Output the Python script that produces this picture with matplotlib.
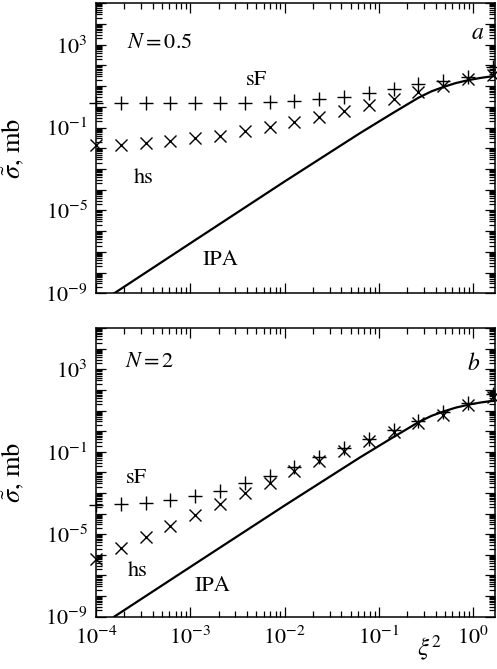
import matplotlib
matplotlib.use("Agg")
import matplotlib.pyplot as plt
import matplotlib.ticker as ticker
import numpy as np

plt.rcParams["font.family"] = "STIXGeneral"
plt.rcParams["mathtext.fontset"] = "stix"

# xi^2 grid shared by the sF and hs points
xi2 = [1.0e-4, 1.83e-4, 3.36e-4, 6.14e-4, 1.13e-3, 2.07e-3, 3.79e-3, 6.95e-3,
       1.27e-2, 2.33e-2, 4.27e-2, 7.8e-2, 0.143, 0.262, 0.48, 0.88, 1.61]

# N = 0.5
sf_a = [1.6, 1.6, 1.6, 1.6, 1.6, 1.6, 1.6, 1.75, 2.0, 2.35, 3.1, 4.8,
        7.0, 12.3, 18.3, 28.6, 87.0]
hs_a = [0.014, 0.0145, 0.0175, 0.0234, 0.031, 0.040, 0.069, 0.112, 0.196,
        0.34, 0.65, 1.23, 2.3, 5.4, 10.0, 21.0, 35.0]

# N = 2
sf_b = [2.6e-4, 2.9e-4, 3.4e-4, 4.6e-4, 7.2e-4, 1.3e-3, 3.2e-3, 6.8e-3,
        0.019, 0.055, 0.15, 0.43, 1.2, 3.3, 8.9, 24.0, 62.0]
hs_b = [6.3e-7, 2.2e-6, 7.1e-6, 2.5e-5, 8.7e-5, 2.95e-4, 9.8e-4, 3.2e-3,
        0.012, 0.037, 0.114, 0.33, 0.9, 2.45, 6.5, 18.0, 48.0]

# independent particle approximation curve
ipa_x = [1.56e-4, 1.0e-3, 1.0e-2, 3.16e-2, 6.3e-2, 0.142, 0.262, 0.36,
         0.482, 0.65, 0.887, 1.2, 1.61, 1.7]
ipa_y = [1.0e-9, 2.6e-7, 2.5e-4, 7.2e-3, 5.4e-2, 0.52, 2.75, 5.6,
         9.1, 14.0, 19.5, 25.0, 30.2, 31.0]

panels = [
    dict(sf=sf_a, hs=hs_a, label="$N = 0.5$", letter="$a$",
         N_pos=(0.078, 0.863), let_pos=(0.957, 0.898),
         sf_pos=(0.401, 0.736), hs_pos=(0.120, 0.398), ipa_pos=(0.311, 0.115)),
    dict(sf=sf_b, hs=hs_b, label="$N = 2$", letter="$b$",
         N_pos=(0.073, 0.883), let_pos=(0.947, 0.876),
         sf_pos=(0.100, 0.481), hs_pos=(0.105, 0.158), ipa_pos=(0.291, 0.106)),
]

fig = plt.figure(figsize=(4.97, 6.69), dpi=100)
rects = [[0.1932, 0.5616, 0.8028, 0.4335], [0.1932, 0.0782, 0.8028, 0.4311]]

for i, (p, r) in enumerate(zip(panels, rects)):
    ax = fig.add_axes(r)
    ax.set_xscale("log")
    ax.set_yscale("log")

    ax.plot(ipa_x, ipa_y, color="black", lw=1.6)
    ax.plot(xi2, p["sf"], ls="none", marker="+", ms=10, mew=1.0,
            color="black", clip_on=False)
    ax.plot(xi2, p["hs"], ls="none", marker="x", ms=8.5, mew=1.0,
            color="black", clip_on=False)

    ax.set_xlim(1e-4, 1.7)
    ax.set_ylim(1e-9, 1e5)

    # every decade gets a major tick, only every fourth one is labelled
    ax.yaxis.set_major_locator(ticker.LogLocator(base=10, numticks=30))
    ax.yaxis.set_minor_locator(ticker.LogLocator(base=10, subs=np.arange(2, 10), numticks=30))
    ax.yaxis.set_major_formatter(ticker.FuncFormatter(
        lambda v, pos: r"$10^{%d}$" % round(np.log10(v)) if round(np.log10(v)) in (-9, -5, -1, 3) else ""))
    ax.yaxis.set_minor_formatter(ticker.NullFormatter())
    ax.xaxis.set_major_locator(ticker.LogLocator(base=10, numticks=10))
    ax.xaxis.set_minor_locator(ticker.LogLocator(base=10, subs=np.arange(2, 10), numticks=10))
    ax.xaxis.set_minor_formatter(ticker.NullFormatter())

    ax.tick_params(which="both", direction="in", top=True, right=True,
                   labelsize=16, width=0.9)
    ax.tick_params(which="major", length=7)
    ax.tick_params(which="minor", length=4)
    ax.tick_params(axis="y", pad=6)
    ax.tick_params(axis="x", pad=7)
    for s in ax.spines.values():
        s.set_linewidth(1.1)

    if i == 0:
        ax.tick_params(axis="x", labelbottom=False)

    ax.set_ylabel(r"$\tilde{\sigma}$, mb", fontsize=19)
    ax.yaxis.set_label_coords(-0.175, 0.5)

    ax.text(*p["N_pos"], p["label"], transform=ax.transAxes, fontsize=16,
            ha="left", va="center")
    ax.text(*p["let_pos"], p["letter"], transform=ax.transAxes, fontsize=17,
            ha="center", va="center")
    ax.text(*p["sf_pos"], "sF", transform=ax.transAxes, fontsize=16,
            ha="center", va="center")
    ax.text(*p["hs_pos"], "hs", transform=ax.transAxes, fontsize=16,
            ha="center", va="center")
    ax.text(*p["ipa_pos"], "IPA", transform=ax.transAxes, fontsize=16,
            ha="center", va="center")

    if i == 1:
        ax.text(0.835, -0.11, r"$\xi^2$", transform=ax.transAxes,
                fontsize=18, ha="center", va="center")

fig.savefig("out.png", dpi=100)
